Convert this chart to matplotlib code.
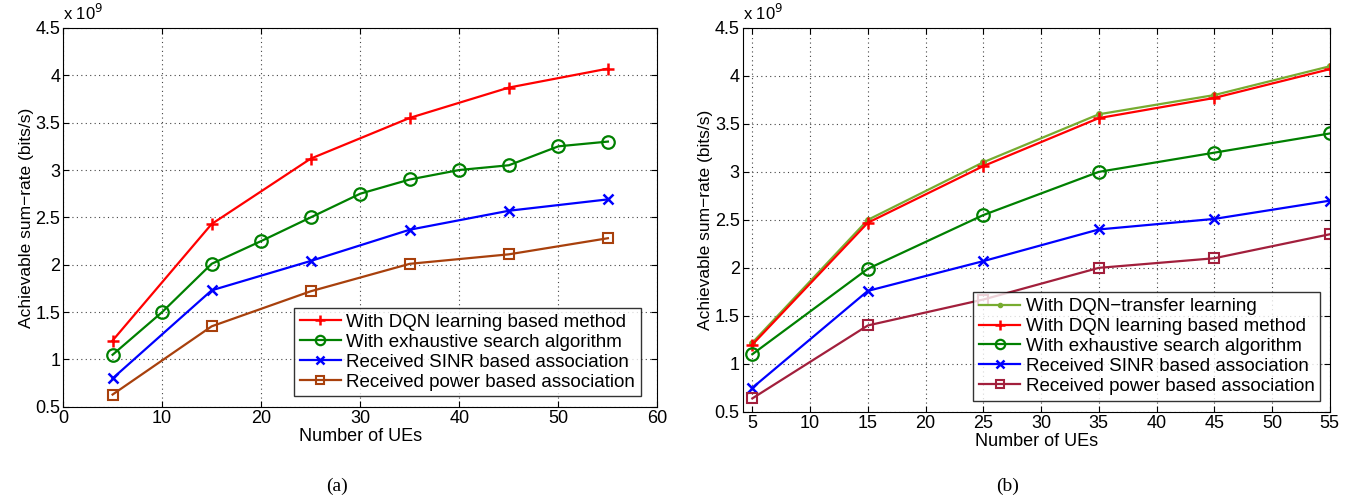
import matplotlib
matplotlib.use('Agg')
import matplotlib.pyplot as plt

plt.rcParams['font.family'] = ['Liberation Sans', 'DejaVu Sans']
plt.rcParams['font.size'] = 12.5

# panel (a)
ues_a = [5, 15, 25, 35, 45, 55]
ues_a_exh = [5, 10, 15, 20, 25, 30, 35, 40, 45, 50, 55]
dqn_a = [1.20, 2.43, 3.12, 3.55, 3.87, 4.07]
exh_a = [1.05, 1.50, 2.01, 2.25, 2.50, 2.75, 2.90, 3.00, 3.05, 3.25, 3.30]
sinr_a = [0.80, 1.73, 2.04, 2.37, 2.57, 2.69]
power_a = [0.63, 1.35, 1.72, 2.01, 2.11, 2.28]

# panel (b)
ues_b = [5, 15, 25, 35, 45, 55]
transfer_b = [1.22, 2.50, 3.10, 3.60, 3.80, 4.10]
dqn_b = [1.20, 2.47, 3.06, 3.56, 3.77, 4.07]
exh_b = [1.10, 1.99, 2.55, 3.00, 3.20, 3.40]
sinr_b = [0.75, 1.76, 2.07, 2.40, 2.51, 2.70]
power_b = [0.64, 1.40, 1.67, 2.00, 2.10, 2.35]

labels = ["With DQN learning based method", "With exhaustive search algorithm",
          "Received SINR based association", "Received power based association"]

fig = plt.figure(figsize=(13.5, 4.98), dpi=100)
ax1 = fig.add_axes([0.0467, 0.183, 0.4403, 0.761])
ax2 = fig.add_axes([0.550, 0.173, 0.435, 0.771])

def style(ax):
  ax.set_ylim(0.5, 4.5)
  ax.set_yticks([0.5, 1, 1.5, 2, 2.5, 3, 3.5, 4, 4.5])
  ax.set_yticklabels(["0.5", "1", "1.5", "2", "2.5", "3", "3.5", "4", "4.5"])
  ax.grid(True, linestyle=(0, (1, 3)), color='#444444', linewidth=0.8)
  ax.tick_params(direction='in', top=True, right=True, length=4, pad=2, labelsize=13)
  ax.set_xlabel("Number of UEs", labelpad=1, fontsize=13)
  ax.set_ylabel("Achievable sum\u2212rate (bits/s)", labelpad=1, fontsize=12.5)
  ax.text(0.0, 1.012, "x 10$^{9}$", transform=ax.transAxes, ha='left', va='bottom', fontsize=12)
  for s in ax.spines.values():
    s.set_linewidth(0.8)

lw = 1.6
ms = 9
leg_kw = dict(loc='lower right', frameon=True, fancybox=False, edgecolor='black',
              handlelength=2.2, handletextpad=0.3, labelspacing=0.15, borderpad=0.3,
              markerscale=0.75, fontsize=13.5)

ax1.plot(ues_a, dqn_a, color='red', marker='+', ms=ms, mew=1.8, lw=lw, label=labels[0])
ax1.plot(ues_a_exh, exh_a, color='#008000', marker='o', ms=ms, mfc='none', mew=1.6, lw=lw, label=labels[1])
ax1.plot(ues_a, sinr_a, color='blue', marker='x', ms=7, mew=1.8, lw=lw, label=labels[2])
ax1.plot(ues_a, power_a, color='#a8400c', marker='s', ms=7.5, mfc='none', mew=1.5, lw=lw, label=labels[3])
ax1.set_xlim(0, 60)
ax1.set_xticks(range(0, 61, 10))
style(ax1)
ax1.legend(bbox_to_anchor=(0.988, 0.003), **leg_kw)

ax2.plot(ues_b, transfer_b, color='#77ac30', marker='.', ms=8, lw=lw, label="With DQN\u2212transfer learning")
ax2.plot(ues_b, dqn_b, color='red', marker='+', ms=ms, mew=1.8, lw=lw, label=labels[0])
ax2.plot(ues_b, exh_b, color='#008000', marker='o', ms=ms, mfc='none', mew=1.6, lw=lw, label=labels[1])
ax2.plot(ues_b, sinr_b, color='blue', marker='x', ms=7, mew=1.8, lw=lw, label=labels[2])
ax2.plot(ues_b, power_b, color='#a21f3c', marker='s', ms=7.5, mfc='none', mew=1.5, lw=lw, label=labels[3])
ax2.set_xlim(4.15, 55)
ax2.set_xticks(range(5, 56, 5))
style(ax2)
ax2.legend(bbox_to_anchor=(1.0, 0.005), **leg_kw)

fig.text(337 / 1350, 1 - 486 / 498, "(a)", family='Liberation Serif', fontsize=14, ha='center', va='center')
fig.text(1008 / 1350, 1 - 486 / 498, "(b)", family='Liberation Serif', fontsize=14, ha='center', va='center')

fig.savefig("out.png", dpi=100)
